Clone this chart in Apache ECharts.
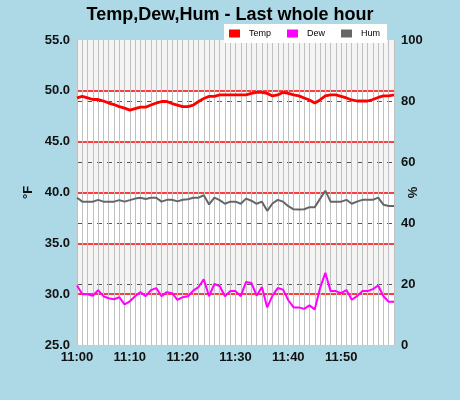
<!DOCTYPE html>
<html>
<head>
<meta charset="utf-8">
<script src="https://cdn.jsdelivr.net/npm/echarts@6/dist/echarts.min.js"></script>
<style>
html,body{margin:0;padding:0;background:#add8e6;}
#chart{width:460px;height:400px;}
</style>
</head>
<body>
<div id="chart"></div>
<script>
const categories = [];
for (let m = 0; m <= 60; m++) {
  const h = 11 + Math.floor(m / 60);
  const mm = m % 60;
  categories.push(h + ':' + (mm < 10 ? '0' : '') + mm);
}

const temp = [49.3,49.45,49.3,49.15,49.15,49.0,48.8,48.65,48.45,48.3,
  48.1,48.25,48.4,48.4,48.6,48.8,48.95,48.95,48.75,48.6,
  48.45,48.45,48.6,48.95,49.25,49.45,49.45,49.6,49.6,49.6,
  49.6,49.6,49.6,49.75,49.85,49.85,49.75,49.5,49.6,49.85,
  49.75,49.6,49.5,49.3,49.1,48.8,49.1,49.5,49.6,49.6,
  49.45,49.3,49.1,49.0,49.0,49.0,49.15,49.35,49.5,49.5,49.6];

const dew = [30.85,30.0,30.0,29.85,30.4,29.8,29.6,29.5,29.7,29.0,
  29.3,29.8,30.2,29.8,30.4,30.6,29.8,30.2,30.1,29.45,
  29.7,29.8,30.35,30.7,31.45,29.8,31.0,30.8,29.8,30.3,
  30.3,29.8,31.2,31.1,29.85,30.7,28.7,29.85,30.6,30.45,
  29.4,28.7,28.7,28.55,28.9,28.5,30.6,32.1,30.3,30.3,
  30.1,30.4,29.45,29.8,30.3,30.3,30.5,30.85,29.8,29.25,29.25];

const hum = [48.3,47,47,47,47.6,47,47,47,47.5,47,
  47.5,48,48.3,47.9,48.3,48.3,47,47.6,47.6,47.1,
  47.6,47.8,48.3,48.3,49.1,46.1,48.3,47.5,46.3,47,
  47,46.3,48,47.3,46.3,47,44,46.4,47.6,47,
  45.5,44.5,44.4,44.5,45.2,45.2,47.9,50.6,47,47,
  47,47.6,46.3,47,47.6,47.6,47.6,48.3,46,45.6,45.6];

const seriesNames = ['Temp', 'Dew', 'Hum'];
const seriesColors = ['#ff0000', '#ff00ff', '#666666'];

const chart = echarts.init(document.getElementById('chart'), null, {renderer: 'canvas'});
const labelFont = {fontFamily: 'Liberation Sans, Arial, sans-serif', fontWeight: 'bold', fontSize: 13, color: '#111'};

chart.setOption({
  backgroundColor: '#add8e6',
  animation: false,
  title: {
    text: 'Temp,Dew,Hum - Last whole hour',
    left: 'center',
    top: 1,
    textStyle: {fontFamily: 'Liberation Sans, Arial, sans-serif', fontWeight: 'bold', fontSize: 18, color: '#000'}
  },
  legend: {
    data: seriesNames,
    right: 73,
    top: 24,
    backgroundColor: '#ffffff',
    padding: [5, 7, 5, 5],
    itemWidth: 11,
    itemHeight: 8,
    itemGap: 16,
    icon: 'rect',
    textStyle: {fontFamily: 'Liberation Sans, Arial, sans-serif', fontSize: 9, color: '#000', padding: [0, 0, 0, 4]}
  },
  grid: {
    left: 77, right: 66, top: 40, bottom: 55,
    show: true, borderColor: '#cccccc', borderWidth: 1, backgroundColor: 'transparent'
  },
  xAxis: {
    type: 'category',
    data: categories,
    boundaryGap: false,
    axisLine: {show: false},
    axisTick: {show: false},
    axisLabel: Object.assign({
      interval: 9, margin: 6,
      formatter: (v, i) => (i === categories.length - 1 ? '' : v)
    }, labelFont),
    splitLine: {show: true, interval: 0, lineStyle: {color: '#c0c0c0', width: 1}}
  },
  yAxis: [
    {
      type: 'value', min: 25, max: 55, interval: 5,
      name: '°F', nameLocation: 'middle', nameGap: 42, nameMoveOverlap: false,
      nameTextStyle: {fontFamily: 'Liberation Sans, Arial, sans-serif', fontWeight: 'bold', fontSize: 13, color: '#111'},
      axisLine: {show: false}, axisTick: {show: false},
      axisLabel: Object.assign({margin: 7, formatter: v => v.toFixed(1)}, labelFont),
      splitLine: {show: true, showMinLine: false, showMaxLine: false, lineStyle: {color: '#ff0000', width: 1.5}},
      splitArea: {show: true, areaStyle: {color: ['#ffffff', '#f4f4f4']}}
    },
    {
      type: 'value', min: 0, max: 100, interval: 20,
      name: '%', nameLocation: 'middle', nameGap: 13, nameMoveOverlap: false,
      nameTextStyle: {fontFamily: 'Liberation Sans, Arial, sans-serif', fontWeight: 'bold', fontSize: 13, color: '#111'},
      axisLine: {show: false}, axisTick: {show: false},
      axisLabel: Object.assign({margin: 7}, labelFont),
      splitLine: {show: true, showMinLine: false, showMaxLine: false, lineStyle: {color: '#555555', width: 1, type: [5, 5]}},
      splitArea: {show: false}
    }
  ],
  series: [
    {name: seriesNames[0], type: 'line', data: temp, yAxisIndex: 0, symbol: 'none', z: 5,
     itemStyle: {color: seriesColors[0]}, lineStyle: {color: seriesColors[0], width: 2.8}},
    {name: seriesNames[1], type: 'line', data: dew, yAxisIndex: 0, symbol: 'none', z: 4,
     itemStyle: {color: seriesColors[1]}, lineStyle: {color: seriesColors[1], width: 2}},
    {name: seriesNames[2], type: 'line', data: hum, yAxisIndex: 1, symbol: 'none', z: 3,
     itemStyle: {color: seriesColors[2]}, lineStyle: {color: seriesColors[2], width: 2}}
  ]
});
</script>
</body>
</html>
